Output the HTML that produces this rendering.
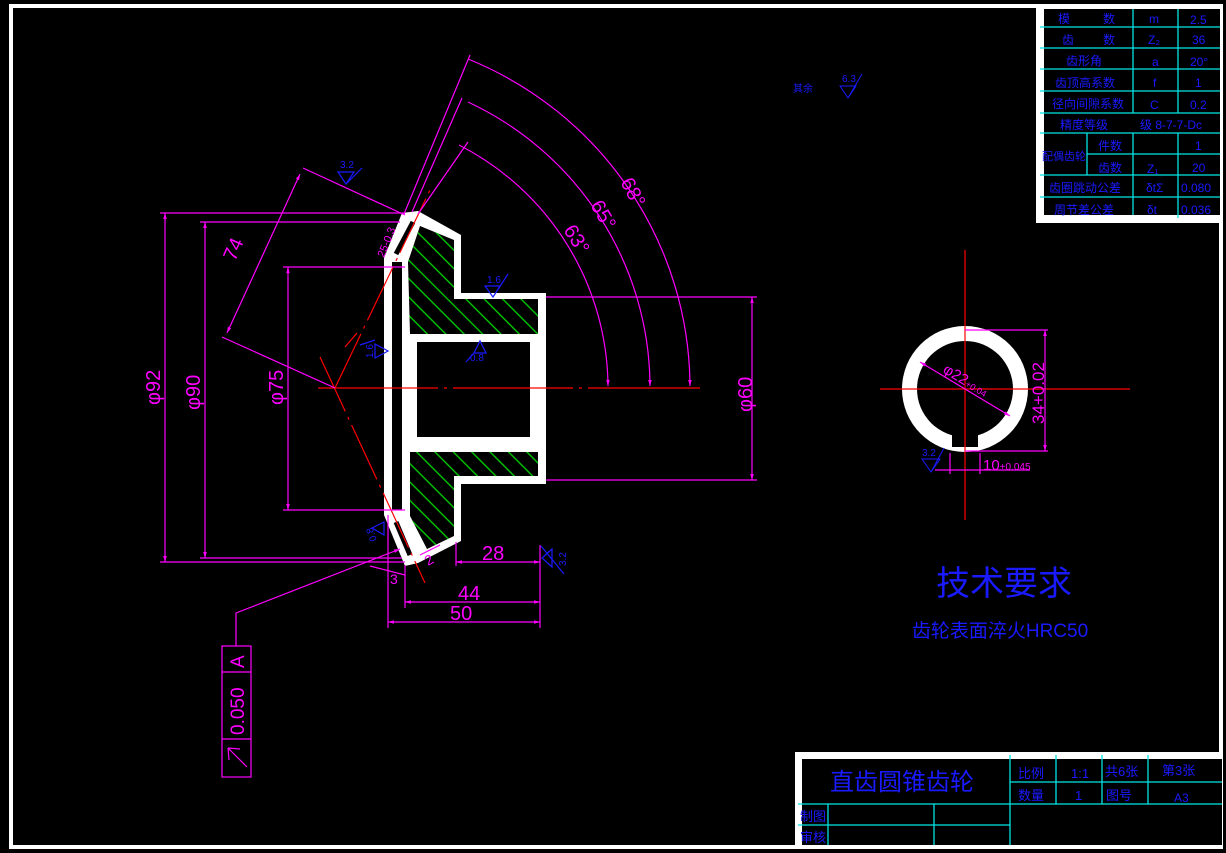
<!DOCTYPE html>
<html><head><meta charset="utf-8"><style>
html,body{margin:0;padding:0;background:#000;width:1226px;height:853px;overflow:hidden}
svg{display:block}
text{font-family:"Liberation Sans","Noto Sans CJK SC",sans-serif}
</style></head><body>
<svg width="1226" height="853" viewBox="0 0 1226 853" xmlns="http://www.w3.org/2000/svg">
<defs>
<pattern id="h" width="13" height="13" patternUnits="userSpaceOnUse" patternTransform="rotate(-45)">
<line x1="1" y1="0" x2="1" y2="13" stroke="#00d800" stroke-width="1.3"/>
</pattern>
<marker id="a" viewBox="0 0 10 10" refX="10" refY="5" markerWidth="10" markerHeight="6" orient="auto-start-reverse" markerUnits="userSpaceOnUse"><path d="M0,2 L10,5 L0,8 Z" fill="#ff00ff"/></marker>
</defs>
<rect width="1226" height="853" fill="#000"/>
<rect x="11" y="6" width="1210" height="841" fill="none" stroke="#fff" stroke-width="4"/>

<rect x="1036" y="5" width="187" height="218" fill="#fff"/>
<rect x="1044" y="9" width="176" height="206" fill="#000"/>
<g stroke="#00e5e5" stroke-width="1.3" fill="none">
<line x1="1040" y1="27" x2="1220" y2="27"/><line x1="1040" y1="48" x2="1220" y2="48"/>
<line x1="1040" y1="69" x2="1220" y2="69"/><line x1="1040" y1="91" x2="1220" y2="91"/>
<line x1="1040" y1="113" x2="1220" y2="113"/><line x1="1040" y1="133" x2="1220" y2="133"/>
<line x1="1087" y1="154" x2="1220" y2="154"/><line x1="1040" y1="175" x2="1220" y2="175"/>
<line x1="1040" y1="197" x2="1220" y2="197"/>
<line x1="1133" y1="9" x2="1133" y2="113"/><line x1="1133" y1="133" x2="1133" y2="215"/>
<line x1="1178" y1="9" x2="1178" y2="113"/><line x1="1178" y1="133" x2="1178" y2="218"/>
<line x1="1087" y1="133" x2="1087" y2="175"/>
</g>
<g fill="#1a1aff" font-size="12">
<text x="1058" y="23">模</text><text x="1103" y="23">数</text><text x="1149" y="23">m</text><text x="1190" y="24">2.5</text>
<text x="1062" y="44">齿</text><text x="1103" y="44">数</text><text x="1148" y="44">Z₂</text><text x="1192" y="44">36</text>
<text x="1066" y="65">齿形角</text><text x="1152" y="66">a</text><text x="1190" y="66">20°</text>
<text x="1055" y="87">齿顶高系数</text><text x="1153" y="87">f</text><text x="1195" y="87">1</text>
<text x="1052" y="108">径向间隙系数</text><text x="1150" y="109">C</text><text x="1190" y="109">0.2</text>
<text x="1060" y="129">精度等级</text><text x="1140" y="129">级 8-7-7-Dc</text>
<text x="1042" y="160" font-size="11">配偶齿轮</text>
<text x="1098" y="150">件数</text><text x="1195" y="150">1</text>
<text x="1098" y="172">齿数</text><text x="1147" y="173">Z₁</text><text x="1192" y="172">20</text>
<text x="1049" y="192">齿圈跳动公差</text><text x="1146" y="192">δtΣ</text><text x="1181" y="192">0.080</text>
<text x="1054" y="214">周节差公差</text><text x="1147" y="214">δt</text><text x="1181" y="214">0.036</text>
</g>

<rect x="795" y="752" width="428" height="96" fill="#fff"/>
<rect x="802" y="759" width="420" height="86" fill="#000"/>
<g stroke="#00e5e5" stroke-width="1.3">
<line x1="1010" y1="755" x2="1010" y2="845"/><line x1="1056" y1="755" x2="1056" y2="804"/>
<line x1="1102" y1="755" x2="1102" y2="804"/><line x1="1148" y1="755" x2="1148" y2="804"/>
<line x1="1010" y1="782" x2="1222" y2="782"/><line x1="798" y1="804" x2="1222" y2="804"/>
<line x1="798" y1="825" x2="1010" y2="825"/><line x1="828" y1="804" x2="828" y2="845"/>
<line x1="934" y1="804" x2="934" y2="845"/>
</g>
<g fill="#1a1aff">
<text x="830" y="790" font-size="24">直齿圆锥齿轮</text>
<text x="1018" y="778" font-size="13">比例</text><text x="1071" y="778" font-size="13">1:1</text>
<text x="1105" y="776" font-size="13">共6张</text><text x="1162" y="775" font-size="13">第3张</text>
<text x="1018" y="800" font-size="13">数量</text><text x="1075" y="800" font-size="13">1</text>
<text x="1106" y="800" font-size="13">图号</text><text x="1174" y="802" font-size="12">A3</text>
<text x="800" y="821" font-size="13">制图</text><text x="800" y="842" font-size="13">审核</text>
</g>

<text x="1004" y="595" font-size="34" fill="#1a1aff" text-anchor="middle">技术要求</text>
<text x="1000" y="637" font-size="19" fill="#1a1aff" text-anchor="middle">齿轮表面淬火HRC50</text>
<text x="793" y="92" font-size="10" fill="#1a1aff">其余</text>
<text x="842" y="82" font-size="10" fill="#1a1aff">6.3</text>
<path d="M840,86 L856,86 L848,98 Z M848,98 L862,74" stroke="#1a1aff" fill="none"/>

<polygon points="384,258 402,213 418,211 461,235 461,293 546,293 546,484 461,484 461,541 418,563 405,566 384,515" fill="#fff"/>
<polygon points="408,262 420,226 454,240 454,299 538,299 538,334 410,334" fill="#000"/>
<polygon points="408,262 420,226 454,240 454,299 538,299 538,334 410,334" fill="url(#h)"/>
<polygon points="410,452 538,452 538,476 454,476 454,536 427,549 410,516" fill="#000"/>
<polygon points="410,452 538,452 538,476 454,476 454,536 427,549 410,516" fill="url(#h)"/>
<rect x="392" y="262" width="10" height="248" fill="#000"/>
<rect x="417" y="342" width="113" height="95" fill="#000"/>
<line x1="396" y1="254" x2="413" y2="222" stroke="#000" stroke-width="5"/>
<line x1="396" y1="522" x2="410" y2="555" stroke="#000" stroke-width="5"/>

<g stroke="#ff0000" stroke-width="1.2" fill="none">
<line x1="318" y1="388" x2="700" y2="388" stroke-dasharray="120,6,3,6"/>
<line x1="335" y1="388" x2="430" y2="190" stroke-dasharray="60,6,3,6"/>
<line x1="320" y1="357" x2="425" y2="583" stroke-dasharray="60,6,3,6"/>
<line x1="345" y1="347" x2="357" y2="333"/>
</g>

<circle cx="965" cy="389" r="63" fill="#fff"/>
<circle cx="965" cy="389" r="48" fill="#000"/>
<rect x="952" y="420" width="26" height="27" fill="#000"/>
<line x1="880" y1="389" x2="1130" y2="389" stroke="#ff0000" stroke-width="1.2"/>
<line x1="965" y1="250" x2="965" y2="520" stroke="#ff0000" stroke-width="1.2"/>
<g stroke="#ff00ff" stroke-width="1.2" fill="none">
<line x1="965" y1="330" x2="1048" y2="330"/><line x1="965" y1="451" x2="1048" y2="451"/>
<line x1="1045" y1="330" x2="1045" y2="451" marker-start="url(#a)" marker-end="url(#a)"/>
<line x1="920" y1="362" x2="1010" y2="416" marker-start="url(#a)" marker-end="url(#a)"/>
<line x1="950" y1="453" x2="950" y2="474"/><line x1="980" y1="453" x2="980" y2="474"/>
<line x1="935" y1="470" x2="1030" y2="470"/>
</g>
<text transform="translate(1044,424) rotate(-90)" font-size="17" fill="#ff00ff">34+0.02</text>
<text transform="translate(942,372) rotate(31)" font-size="15" fill="#ff00ff">φ22<tspan font-size="9">+0.04</tspan></text>
<text x="983" y="470" font-size="15" fill="#ff00ff">10<tspan font-size="10">+0.045</tspan></text>
<text x="922" y="456" font-size="10" fill="#1a1aff">3.2</text>
<path d="M922,459 L940,459 L931,472 Z M931,472 L944,448" stroke="#1a1aff" fill="none"/>

<g stroke="#ff00ff" stroke-width="1.2" fill="none">
<line x1="160" y1="213" x2="405" y2="213"/><line x1="160" y1="562" x2="405" y2="562"/>
<line x1="165" y1="213" x2="165" y2="562" marker-start="url(#a)" marker-end="url(#a)"/>
<line x1="200" y1="222" x2="400" y2="222"/><line x1="200" y1="558" x2="402" y2="558"/>
<line x1="205" y1="222" x2="205" y2="558" marker-start="url(#a)" marker-end="url(#a)"/>
<line x1="283" y1="267" x2="405" y2="267"/><line x1="283" y1="510" x2="405" y2="510"/>
<line x1="288" y1="267" x2="288" y2="510" marker-start="url(#a)" marker-end="url(#a)"/>
<line x1="546" y1="297" x2="757" y2="297"/><line x1="546" y1="480" x2="757" y2="480"/>
<line x1="752" y1="297" x2="752" y2="480" marker-start="url(#a)" marker-end="url(#a)"/>
<line x1="303" y1="168" x2="405" y2="215"/><line x1="222" y1="337" x2="335" y2="388"/>
<line x1="300" y1="174" x2="227" y2="333" marker-start="url(#a)" marker-end="url(#a)"/>
<line x1="404" y1="214" x2="470" y2="55"/><line x1="412" y1="212" x2="462" y2="98"/>
<line x1="418" y1="214" x2="468" y2="142"/>
<path d="M468,59 A355,355 0 0 1 690,386" marker-end="url(#a)"/>
<path d="M468,102 A315,315 0 0 1 650,386" marker-end="url(#a)"/>
<path d="M459,145 A273,273 0 0 1 608,386" marker-end="url(#a)"/>
<line x1="388" y1="515" x2="388" y2="628"/><line x1="405" y1="565" x2="405" y2="608"/>
<line x1="540" y1="545" x2="540" y2="628"/><line x1="456" y1="542" x2="456" y2="566"/>
<line x1="456" y1="562" x2="540" y2="562" marker-start="url(#a)" marker-end="url(#a)"/>
<line x1="405" y1="602" x2="540" y2="602" marker-start="url(#a)" marker-end="url(#a)"/>
<line x1="388" y1="622" x2="540" y2="622" marker-start="url(#a)" marker-end="url(#a)"/>
<polyline points="236,646 236,613 400,549" marker-end="url(#a)"/>
<rect x="222" y="646" width="29" height="131"/>
<line x1="222" y1="672" x2="251" y2="672"/><line x1="222" y1="739" x2="251" y2="739"/>
<line x1="228" y1="748" x2="247" y2="767"/><path d="M228,748 L229,760 M228,748 L240,749"/>
<line x1="370" y1="566" x2="405" y2="575"/><line x1="420" y1="555" x2="440" y2="545"/>
</g>
<g fill="#ff00ff" font-size="20">
<text transform="translate(160,405) rotate(-90)">φ92</text>
<text transform="translate(200,410) rotate(-90)">φ90</text>
<text transform="translate(283,405) rotate(-90)">φ75</text>
<text transform="translate(752,412) rotate(-90)">φ60</text>
<text transform="translate(235,262) rotate(-66)">74</text>
<text transform="translate(620,182) rotate(62)">68°</text>
<text transform="translate(590,205) rotate(60)">65°</text>
<text transform="translate(563,230) rotate(58)">63°</text>
<text x="482" y="560">28</text><text x="458" y="600">44</text><text x="450" y="620">50</text>
<text transform="translate(244,735) rotate(-90)" font-size="19">0.050</text>
<text transform="translate(244,668) rotate(-90)" font-size="19">A</text>
<text x="390" y="584" font-size="14">3</text><text x="428" y="566" font-size="14" transform="rotate(-30,428,566)">2</text>
<text transform="translate(384,258) rotate(-68)" font-size="11">25-0.3</text>
</g>
<g stroke="#1a1aff" fill="none" stroke-width="1.2">
<path d="M338,172 L354,172 L346,184 Z M346,184 L362,168"/>
<path d="M485,286 L500,286 L493,297 Z M493,297 L508,274"/>
<path d="M474,353 L480,341 L486,353 Z M474,353 L466,362"/>
<path d="M375,344 L375,358 L388,351 Z M375,340 L360,345"/>
<path d="M542,558 L552,549 L552,567 Z M541,546 L564,574"/>
<path d="M384,522 L384,535 L372,528 Z"/>
</g>
<g fill="#1a1aff" font-size="10">
<text x="340" y="168">3.2</text><text x="487" y="283">1.6</text><text x="470" y="361">0.8</text>
<text transform="translate(373,358) rotate(-90)">1.6</text>
<text transform="translate(566,566) rotate(-90)">3.2</text>
<text transform="translate(377,540) rotate(-110)">0.8</text>
</g>
</svg>
</body></html>
